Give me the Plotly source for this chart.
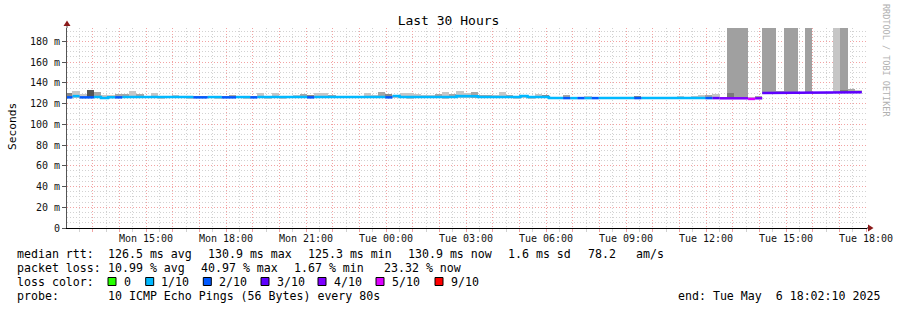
import pandas as pd
import plotly.graph_objects as go

# ---------------- data ----------------
TITLE = "Last 30 Hours"
X_START = "2025-05-05 12:02:10"
X_END = "2025-05-06 18:02:10"
BIN_FIRST = "2025-05-05 11:58:30"
BIN_SECONDS = 960

# median rtt per bin (ms)
median_ms = [
    126.0, 127.2, 126.0, 126.0, 126.4, 125.3, 126.2, 126.0, 126.3, 126.3,
    126.3, 126.3, 126.3, 126.3, 126.3, 126.3, 126.3, 126.3, 126.0, 126.0,
    126.3, 126.3, 126.0, 126.0, 126.3, 126.3, 126.0, 126.3, 126.3, 126.3,
    126.3, 126.3, 126.3, 126.3, 126.0, 126.3, 126.3, 126.3, 126.3, 126.3,
    126.3, 126.3, 126.3, 126.3, 126.3, 126.0, 127.3, 126.3, 126.3, 126.3,
    126.3, 126.3, 126.8, 126.8, 126.3, 127.3, 127.3, 127.0, 126.3, 126.3,
    126.3, 126.3, 126.3, 126.3, 127.3, 126.3, 126.3, 126.3, 125.3, 125.3,
    125.3, 125.3, 125.3, 125.3, 125.3, 125.3, 125.3, 125.3, 125.3, 125.3,
    125.3, 125.3, 125.3, 125.3, 125.3, 125.3, 125.3, 125.3, 125.3, 125.3,
    125.3, 125.3, 125.1, 125.1, 125.1, 125.1, 124.5, 125.1, 130.2, 130.9,
    130.9, 130.9, 130.9, 130.9, 130.9, 130.9, 130.9, 130.9, 130.9, 130.9,
    130.9, 130.9,
]
# loss class per bin (index into LOSS_LABELS)
loss_class = [
    2, 1, 2, 2, 1, 1, 1, 2, 1, 1,
    1, 1, 1, 1, 1, 1, 1, 1, 2, 2,
    1, 1, 2, 2, 1, 1, 2, 1, 1, 1,
    1, 1, 1, 1, 2, 1, 1, 1, 1, 1,
    1, 1, 1, 1, 1, 2, 1, 1, 1, 1,
    1, 1, 1, 1, 1, 1, 1, 1, 1, 1,
    1, 1, 1, 1, 1, 1, 1, 1, 1, 1,
    2, 1, 2, 1, 2, 1, 1, 1, 1, 1,
    2, 1, 1, 1, 1, 1, 1, 1, 1, 1,
    2, 3, 4, 4, 4, 4, 5, 4, 3, 3,
    3, 3, 3, 3, 3, 3, 3, 3, 3, 3,
    3, 3,
]
# smoke upper / lower edge per bin (ms)
smoke_top = [
    130.6, 132.4, 129.3, 133.1, 131.2, 128.6, 128.5, 129.3, 129.3, 132.4,
    129.3, 127.5, 130.2, 127.5, 127.5, 128.3, 127.5, 127.5, 127.5, 127.8,
    127.5, 127.8, 127.8, 128.0, 127.5, 127.5, 127.5, 130.2, 127.5, 130.2,
    127.5, 127.5, 128.3, 129.3, 128.0, 130.2, 130.2, 128.3, 127.5, 127.5,
    127.5, 127.5, 130.2, 128.3, 131.2, 129.3, 128.5, 130.2, 130.2, 129.3,
    128.3, 128.3, 129.3, 131.2, 129.3, 132.4, 130.2, 131.2, 128.3, 128.3,
    128.3, 131.2, 128.3, 127.5, 128.3, 127.3, 129.3, 128.3, 126.5, 126.5,
    128.3, 126.5, 126.5, 127.3, 126.5, 126.5, 126.5, 126.5, 126.5, 126.5,
    127.3, 126.5, 126.5, 126.5, 126.5, 126.5, 127.3, 126.5, 127.0, 128.3,
    128.3, 129.3, 126.5, 192.9, 192.9, 192.9, 126.0, 127.3, 192.9, 192.9,
    132.4, 192.9, 192.9, 131.5, 192.9, 131.5, 131.5, 131.5, 192.9, 192.9,
    134.0, 133.0,
]
smoke_bot = [
    125.0, 125.5, 125.0, 125.5, 125.5, 124.3, 125.0, 125.0, 125.0, 125.0,
    125.3, 125.3, 125.3, 124.5, 125.3, 125.3, 125.3, 124.5, 125.3, 125.3,
    125.3, 124.8, 125.3, 125.3, 125.3, 124.8, 125.3, 125.3, 124.5, 125.3,
    124.0, 125.3, 125.3, 125.3, 125.3, 125.3, 125.3, 125.3, 125.3, 125.3,
    125.3, 125.3, 125.3, 125.3, 125.3, 125.3, 125.3, 125.3, 124.5, 125.3,
    125.3, 125.3, 125.3, 124.5, 125.3, 125.3, 125.3, 125.3, 125.3, 125.3,
    125.3, 125.3, 125.3, 124.0, 125.5, 124.0, 125.3, 125.3, 124.3, 124.3,
    124.3, 124.3, 124.3, 124.3, 124.3, 124.3, 124.3, 124.3, 124.3, 124.3,
    124.3, 124.3, 124.0, 124.3, 124.3, 124.3, 124.3, 124.3, 124.3, 124.0,
    124.3, 124.0, 124.0, 124.3, 124.3, 124.0, 123.8, 124.3, 129.5, 129.8,
    130.0, 130.0, 130.0, 130.0, 130.0, 130.0, 130.0, 130.0, 130.0, 130.0,
    130.0, 130.0,
]
# smoke shade code per bin: L light, M medium, D dark, K very dark, T tall
smoke_shade = list(
    "DLLKMLLMML"
    "MLLLLLLLMM"
    "LLMMLLMLLL"
    "LLLMDLLMLL"
    "LLLLMDLLLL"
    "LLMLMLLMMM"
    "LLMLLLLDLL"
    "MLLLLLLLLL"
    "DLLLLLLLLL"
    "MLMTTTLMTT"
    "MTTMTLLLLT"
    "ML"
)
# darker inner smoke core (ms) where visible, else None
inner_top = [None] * 112
inner_top[93] = 130.0
inner_top[109] = 133.0

LOSS_LABELS = ["0", "1/10", "2/10", "3/10", "4/10", "5/10", "9/10"]
LOSS_COLORS = ["#26ff00", "#00b8ff", "#0059ff", "#5e00ff", "#7e00ff", "#dd00ff", "#ff0000"]
SHADE_COLORS = {"L": "#c6c6c6", "M": "#a6a6a6", "D": "#888888", "K": "#555555", "T": "#a0a0a0"}

Y_TICKS = [0, 20, 40, 60, 80, 100, 120, 140, 160, 180]
Y_TICK_TEXT = ["0", "20 m", "40 m", "60 m", "80 m", "100 m", "120 m", "140 m", "160 m", "180 m"]
X_LABEL_TICKS = ["2025-05-05 15:00", "2025-05-05 18:00", "2025-05-05 21:00", "2025-05-06 00:00",
                 "2025-05-06 03:00", "2025-05-06 06:00", "2025-05-06 09:00", "2025-05-06 12:00",
                 "2025-05-06 15:00", "2025-05-06 18:00"]
X_LABEL_TEXT = ["Mon 15:00", "Mon 18:00", "Mon 21:00", "Tue 00:00", "Tue 03:00", "Tue 06:00",
                "Tue 09:00", "Tue 12:00", "Tue 15:00", "Tue 18:00"]

LEGEND_RTT = [("median rtt:", 16), ("126.5 ms avg", 107), ("130.9 ms max", 207),
              ("125.3 ms min", 307), ("130.9 ms now", 407), ("1.6 ms sd", 507),
              ("78.2", 586.5), ("am/s", 635)]
LEGEND_LOSS = [("packet loss:", 16), ("10.99 % avg", 107), ("40.97 % max", 200),
               ("1.67 % min", 292.5), ("23.32 % now", 383)]
LEGEND_PROBE = [("probe:", 16), ("10 ICMP Echo Pings (56 Bytes) every 80s", 107)]
END_TEXT = "end: Tue May  6 18:02:10 2025"
LOSS_BOX_X = [108, 145.7, 203.3, 261, 318, 376, 435]

# ---------------- geometry helpers (plot area 67..867 x 28..228) ----------------
PL, PT, PW, PH = 67, 28, 800, 200


def px(x):
    return (x - PL) / PW


def py(y):
    return (PT + PH - y) / PH


MONO = "DejaVu Sans Mono"

bin_start = pd.date_range(BIN_FIRST, periods=len(median_ms), freq=f"{BIN_SECONDS}s")
bin_end = bin_start + pd.Timedelta(seconds=BIN_SECONDS)
bin_mid = bin_start + pd.Timedelta(seconds=BIN_SECONDS / 2)

fig = go.Figure()

# smoke bars
for code, col in SHADE_COLORS.items():
    idx = [i for i, s in enumerate(smoke_shade) if s == code]
    if not idx:
        continue
    fig.add_trace(go.Bar(
        x=[bin_mid[i] for i in idx],
        y=[smoke_top[i] - smoke_bot[i] for i in idx],
        base=[smoke_bot[i] for i in idx],
        width=[BIN_SECONDS * 1000] * len(idx),
        marker=dict(color=col, line=dict(width=0)),
        showlegend=False, hoverinfo="skip",
    ))

idx = [i for i, v in enumerate(inner_top) if v is not None]
fig.add_trace(go.Bar(
    x=[bin_mid[i] for i in idx],
    y=[inner_top[i] - smoke_bot[i] for i in idx],
    base=[smoke_bot[i] for i in idx],
    width=[BIN_SECONDS * 1000] * len(idx),
    marker=dict(color="#7a7a7a", line=dict(width=0)),
    showlegend=False, hoverinfo="skip",
))

# median line, coloured by loss class
for c, col in enumerate(LOSS_COLORS):
    xs, ys = [], []
    prev = False
    for i, m in enumerate(median_ms):
        if loss_class[i] == c:
            if not prev and xs:
                xs.append(None)
                ys.append(None)
            xs += [bin_start[i], bin_end[i]]
            ys += [m, m]
            prev = True
        else:
            prev = False
    if xs:
        fig.add_trace(go.Scatter(x=xs, y=ys, mode="lines",
                                 line=dict(color=col, width=2.5),
                                 showlegend=False, hoverinfo="skip"))

hour_ticks = pd.date_range("2025-05-05 13:00", "2025-05-06 18:00", freq="1h")
lab = dict(zip(pd.to_datetime(X_LABEL_TICKS), X_LABEL_TEXT))
hour_text = [lab.get(t, "") for t in hour_ticks]

RED = "#f2a3a3"
GREY = "#d2d2d2"
DASH = "1px,2px"

fig.update_layout(
    width=897, height=310,
    margin=dict(l=PL, r=897 - PL - PW, t=PT, b=310 - PT - PH, autoexpand=False),
    paper_bgcolor="white", plot_bgcolor="white",
    barmode="overlay", bargap=0,
    font=dict(family=MONO, size=10, color="#111"),
    title=dict(text=TITLE, x=0.5, xref="container", xanchor="center",
               y=1 - 20 / 310, yref="container", yanchor="middle",
               font=dict(family=MONO, size=13, color="#000")),
    xaxis=dict(
        type="date", range=[X_START, X_END], automargin=False,
        tickmode="array", tickvals=list(hour_ticks), ticktext=hour_text,
        showgrid=True, gridcolor=RED, griddash=DASH, gridwidth=1,
        ticks="outside", ticklen=3, tickcolor=RED, ticklabelstandoff=-2,
        showline=True, linecolor="#000", linewidth=1,
        tickfont=dict(family=MONO, size=10, color="#111"),
        minor=dict(tick0="2025-05-05 12:30", dtick=1800000, showgrid=True,
                   gridcolor=GREY, griddash=DASH, ticks="outside", ticklen=3, tickcolor=GREY),
        zeroline=False, fixedrange=True,
    ),
    yaxis=dict(
        range=[0, 192.9], automargin=False,
        tickmode="array", tickvals=Y_TICKS, ticktext=Y_TICK_TEXT,
        showgrid=True, gridcolor=RED, griddash=DASH, gridwidth=1,
        ticks="outside", ticklen=4, tickcolor="#555",
        showline=True, linecolor="#555", linewidth=1,
        tickfont=dict(family=MONO, size=10, color="#111"),
        minor=dict(dtick=5, tick0=0, showgrid=True, gridcolor=GREY, griddash=DASH),
        zeroline=False, fixedrange=True,
    ),
)

shapes = []
# axis arrows
shapes.append(dict(type="line", xref="paper", yref="paper", x0=px(67), x1=px(67), y0=py(28), y1=py(24),
                   line=dict(color="#555", width=1)))
shapes.append(dict(type="path", xref="paper", yref="paper",
                   path=f"M {px(63.5)} {py(26)} L {px(67)} {py(20.5)} L {px(70.5)} {py(26)} Z",
                   fillcolor="#8b1a1a", line=dict(width=0)))
shapes.append(dict(type="line", xref="paper", yref="paper", x0=px(867), x1=px(869), y0=py(228), y1=py(228),
                   line=dict(color="#000", width=1)))
shapes.append(dict(type="path", xref="paper", yref="paper",
                   path=f"M {px(868)} {py(224.5)} L {px(873.5)} {py(228)} L {px(868)} {py(231.5)} Z",
                   fillcolor="#8b1a1a", line=dict(width=0)))
# loss colour boxes
for bx, col in zip(LOSS_BOX_X, LOSS_COLORS):
    shapes.append(dict(type="rect", xref="paper", yref="paper",
                       x0=px(bx), x1=px(bx + 8), y0=py(277.5), y1=py(285.5),
                       fillcolor=col, line=dict(color="#000", width=1)))
fig.update_layout(shapes=shapes)

ann = []


def txt(s, x, y, size=11.6, color="#000", anchor="left", angle=0):
    ann.append(dict(text=s.replace(" ", "\u00a0"), x=px(x), y=py(y), xref="paper", yref="paper",
                    xanchor=anchor, yanchor="middle", showarrow=False, borderpad=0,
                    textangle=angle, font=dict(family=MONO, size=size, color=color)))


for s, x in LEGEND_RTT:
    txt(s, x, 254)
for s, x in LEGEND_LOSS:
    txt(s, x, 268)
txt("loss color:", 16, 282)
for bx, s in zip(LOSS_BOX_X, LOSS_LABELS):
    txt(s, bx + 14.5, 282)
for s, x in LEGEND_PROBE:
    txt(s, x, 296)
txt(END_TEXT, 881, 296, anchor="right")
txt("Seconds", 12, 126, size=11.2, angle=-90, anchor="center")
txt("RRDTOOL / TOBI OETIKER", 886, 60, size=8.5, color="#b0b0b0", angle=90, anchor="center")
fig.update_layout(annotations=ann)

fig.write_html("out.html")
